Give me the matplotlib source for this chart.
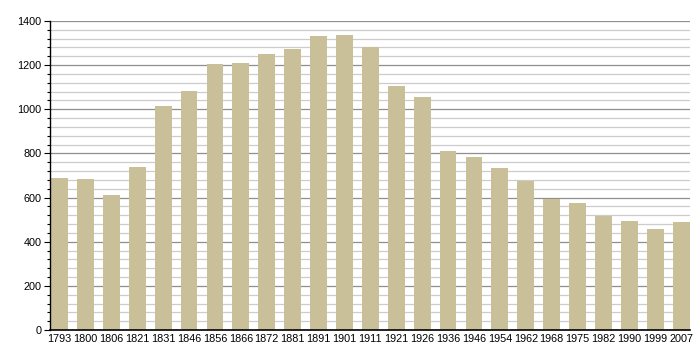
import matplotlib
matplotlib.use("Agg")
import matplotlib.pyplot as plt
from matplotlib.ticker import MultipleLocator

years = ["1793", "1800", "1806", "1821", "1831", "1846", "1856", "1866", "1872",
         "1881", "1891", "1901", "1911", "1921", "1926", "1936", "1946", "1954",
         "1962", "1968", "1975", "1982", "1990", "1999", "2007"]
population = [688, 683, 611, 738, 1015, 1081, 1205, 1209, 1250,
              1271, 1332, 1336, 1280, 1105, 1054, 811, 784, 734,
              676, 595, 575, 518, 492, 457, 489]

plt.rcParams["font.family"] = ["Liberation Sans", "DejaVu Sans"]

fig = plt.figure(figsize=(7, 3.6), dpi=100)
ax = fig.add_axes([0.0714, 0.0833, 0.9146, 0.8584])

x = list(range(len(years)))
ax.bar(x, population, width=0.65, color="#c9c09a", zorder=3)

ax.set_ylim(0, 1400)
ax.set_xlim(-0.37, len(years) - 1 + 0.35)
ax.yaxis.set_major_locator(MultipleLocator(200))
ax.yaxis.set_minor_locator(MultipleLocator(40))
ax.grid(axis="y", which="major", color="#8f8f8f", linewidth=0.9, zorder=1)
ax.grid(axis="y", which="minor", color="#cccccc", linewidth=0.9, zorder=1)

ax.set_xticks(x)
ax.set_xticklabels(years)
ax.tick_params(axis="x", length=0, labelsize=7.8, pad=3)
ax.tick_params(axis="y", which="major", length=4, width=0.8, labelsize=7.8, pad=2)
ax.tick_params(axis="y", which="minor", length=2.5, width=0.8)

for side in ("top", "right"):
    ax.spines[side].set_visible(False)
ax.spines["left"].set_linewidth(1.0)
ax.spines["bottom"].set_linewidth(1.2)
ax.spines["left"].set_zorder(4)
ax.spines["bottom"].set_zorder(4)

fig.savefig("out.png", dpi=100)
